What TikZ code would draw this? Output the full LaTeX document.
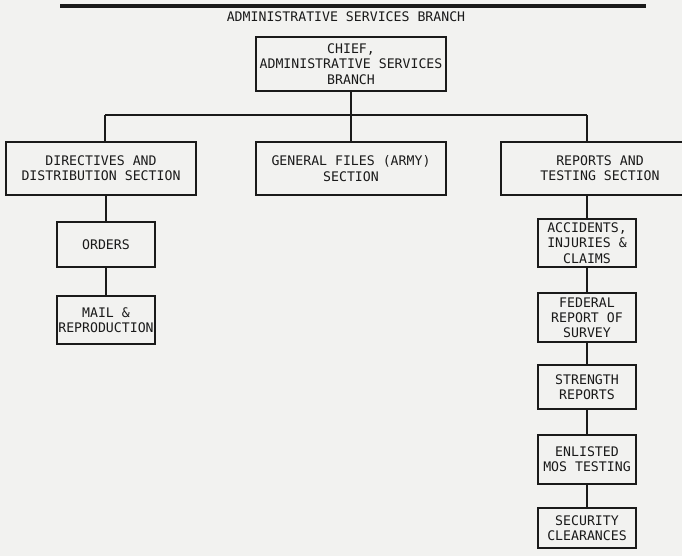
\documentclass[tikz,border=0pt]{standalone}
\usepackage{fontspec}
\setmonofont{DejaVu Sans Mono}
\definecolor{ink}{HTML}{1A1A1A}
\definecolor{paper}{HTML}{F2F2F0}
\newcommand\lbl{\fontsize{13.2}{15.2}\selectfont\ttfamily}
\begin{document}
\begin{tikzpicture}[x=1pt,y=-1pt,
  box/.style={draw=ink, line width=1.8pt, inner sep=0pt, align=center, font=\lbl, text=ink},
  link/.style={draw=ink, line width=1.6pt},
  rule/.style={draw=ink, line width=3.2pt}]
\fill[paper] (0,0) rectangle (682,556);
\useasboundingbox (0,0) rectangle (682,556);

% heading
\draw[rule] (60,6) -- (646,6);
\node[font=\lbl, text=ink, inner sep=0pt] (title) at (346,17) {ADMINISTRATIVE SERVICES BRANCH};

% top level
\node[box, minimum width=190pt, minimum height=54pt] (chief) at (351,64) {CHIEF,\\ADMINISTRATIVE SERVICES\\BRANCH};

% sections
\node[box, minimum width=190pt, minimum height=53pt] (dir) at (101,168.5) {DIRECTIVES AND\\DISTRIBUTION SECTION};
\node[box, minimum width=190pt, minimum height=53pt] (gen) at (351,168.5) {GENERAL FILES (ARMY)\\SECTION};
\node[box, minimum width=198pt, minimum height=53pt] (rep) at (600,168.5) {REPORTS AND\\TESTING SECTION};

% left column
\node[box, minimum width=98pt, minimum height=45pt] (ord) at (106,244.5) {ORDERS};
\node[box, minimum width=98pt, minimum height=48pt] (mail) at (106,320) {MAIL \&\\REPRODUCTION};

% right column
\node[box, minimum width=98pt, minimum height=48pt] (acc) at (587,243) {ACCIDENTS,\\INJURIES \&\\CLAIMS};
\node[box, minimum width=98pt, minimum height=49pt] (fed) at (587,317.5) {FEDERAL\\REPORT OF\\SURVEY};
\node[box, minimum width=98pt, minimum height=44pt] (str) at (587,387) {STRENGTH\\REPORTS};
\node[box, minimum width=98pt, minimum height=49pt] (enl) at (587,459.5) {ENLISTED\\MOS TESTING};
\node[box, minimum width=98pt, minimum height=40pt] (sec) at (587,528) {SECURITY\\CLEARANCES};

% connectors
\coordinate (jl) at (105,115);
\coordinate (jr) at (587,115);
\draw[link] (jl) -- (jr);
\draw[link] (chief.south) -- (gen.north);
\draw[link] (jl) -- (jl |- dir.north);
\draw[link] (jr) -- (jr |- rep.north);
\draw[link] (ord.north |- dir.south) -- (ord.north);
\draw[link] (ord.south) -- (mail.north);
\draw[link] (acc.north |- rep.south) -- (acc.north);
\draw[link] (acc.south) -- (fed.north);
\draw[link] (fed.south) -- (str.north);
\draw[link] (str.south) -- (enl.north);
\draw[link] (enl.south) -- (sec.north);
\end{tikzpicture}
\end{document}
